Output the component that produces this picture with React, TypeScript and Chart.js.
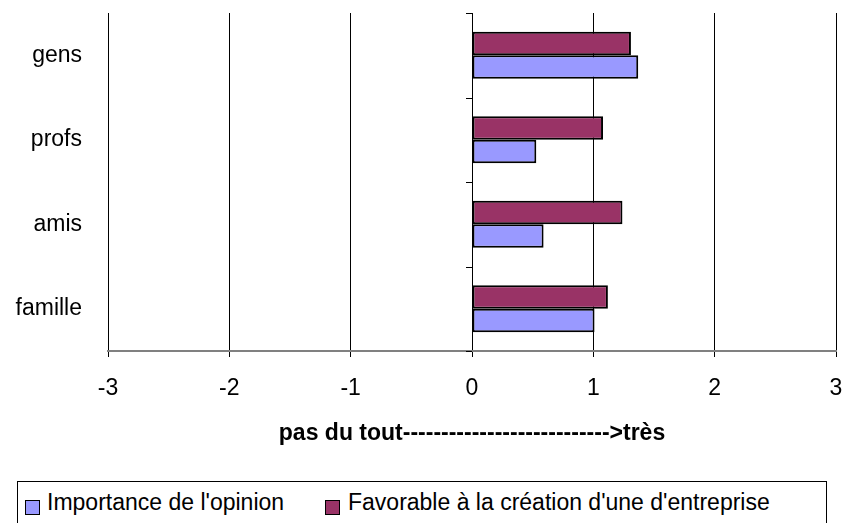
import React, { useEffect, useRef } from "react";
import { Chart, registerables } from "chart.js";

Chart.register(...registerables);

const categories = ["gens", "profs", "amis", "famille"];
const favorableValues = [1.31, 1.08, 1.24, 1.12];
const importanceValues = [1.37, 0.53, 0.59, 1.01];
const xMin = -3;
const xMax = 3;
const seriesNames = ["Importance de l'opinion", "Favorable à la création d'une d'entreprise"];
const seriesColors = ["#9999FF", "#993366"];
const axisTitle = "pas du tout" + "---------------------------" + ">très";

const FONT = '"Liberation Sans", Arial, sans-serif';

const categoryTicksPlugin = {
  id: "categoryTicks",
  afterDatasetsDraw(chart: any) {
    const ctx = chart.ctx;
    const xs = chart.scales.x;
    const ys = chart.scales.y;
    const x0 = xs.getPixelForValue(0);
    ctx.save();
    ctx.strokeStyle = "#000000";
    ctx.lineWidth = 1;
    for (let i = 0; i <= categories.length; i++) {
      const y = Math.round(ys.getPixelForValue(i - 0.5)) + 0.5;
      ctx.beginPath();
      ctx.moveTo(x0 - 6, y);
      ctx.lineTo(x0, y);
      ctx.stroke();
    }
    ctx.restore();
  },
};

export default function App() {
  const canvasRef = useRef<HTMLCanvasElement | null>(null);

  useEffect(() => {
    if (!canvasRef.current) return;
    const chart = new Chart(canvasRef.current, {
      type: "bar",
      data: {
        labels: categories,
        datasets: [
          {
            label: seriesNames[1],
            data: favorableValues,
            backgroundColor: seriesColors[1],
            borderColor: "#000000",
            borderWidth: 2,
            borderSkipped: false,
            categoryPercentage: 0.556,
            barPercentage: 1,
          },
          {
            label: seriesNames[0],
            data: importanceValues,
            backgroundColor: seriesColors[0],
            borderColor: "#000000",
            borderWidth: 2,
            borderSkipped: false,
            categoryPercentage: 0.556,
            barPercentage: 1,
          },
        ],
      },
      options: {
        indexAxis: "y",
        animation: false,
        responsive: true,
        maintainAspectRatio: false,
        layout: { padding: { left: 0, right: 10, top: 13, bottom: 75 } },
        plugins: {
          legend: { display: false },
          tooltip: { enabled: false },
        },
        scales: {
          x: {
            min: xMin,
            max: xMax,
            ticks: {
              stepSize: 1,
              color: "#000000",
              padding: 18,
              font: { family: FONT, size: 23 },
            },
            grid: {
              color: "#000000",
              lineWidth: 1,
              tickLength: 6,
              drawTicks: true,
            },
            border: { display: true, color: "#808080", width: 2 },
            title: {
              display: true,
              text: axisTitle,
              color: "#000000",
              font: { family: FONT, size: 23, weight: "bold" },
              padding: { top: 0, bottom: 1 },
            },
            afterFit(scale: any) {
              scale.height = 97;
              scale.paddingLeft = 0;
              scale.paddingRight = 0;
            },
          },
          y: {
            ticks: {
              color: "#000000",
              padding: 26,
              font: { family: FONT, size: 23 },
            },
            grid: { display: false, drawTicks: false },
            border: { display: false },
            afterFit(scale: any) {
              scale.width = 108;
              scale.paddingTop = 0;
              scale.paddingBottom = 0;
            },
          },
        },
      },
      plugins: [categoryTicksPlugin],
    });
    return () => chart.destroy();
  }, []);

  const legendText: React.CSSProperties = {
    position: "absolute",
    top: 6,
    fontFamily: FONT,
    fontSize: 23,
    lineHeight: "28px",
    color: "#000",
    whiteSpace: "nowrap",
  };
  const marker = (color: string, left: number): React.CSSProperties => ({
    position: "absolute",
    left,
    top: 18,
    width: 13,
    height: 13,
    background: color,
    border: "1px solid #000",
  });

  return (
    <div style={{ position: "absolute", left: 0, top: 0, width: 846, height: 523, background: "#fff", overflow: "hidden" }}>
      <div style={{ position: "absolute", left: 0, top: 0, width: 846, height: 523 }}>
        <canvas ref={canvasRef} />
      </div>
      <div
        style={{
          position: "absolute",
          left: 17,
          top: 481,
          width: 808,
          height: 60,
          border: "1px solid #000",
          background: "#fff",
        }}
      >
        <div style={marker(seriesColors[0], 7)} />
        <div style={{ ...legendText, left: 29 }}>{seriesNames[0]}</div>
        <div style={marker(seriesColors[1], 307)} />
        <div style={{ ...legendText, left: 330 }}>{seriesNames[1]}</div>
      </div>
    </div>
  );
}
